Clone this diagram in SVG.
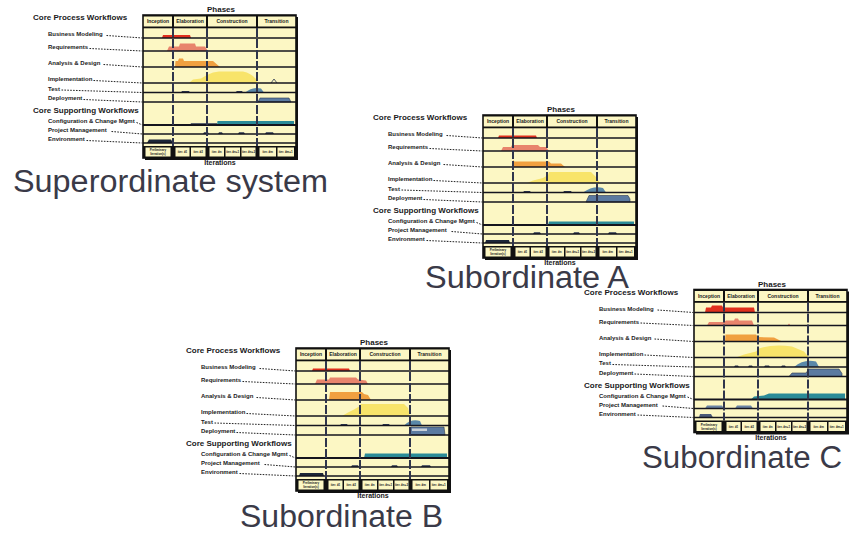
<svg xmlns="http://www.w3.org/2000/svg" xmlns:xlink="http://www.w3.org/1999/xlink" width="849" height="534" viewBox="0 0 849 534">
<style>
.t{font-family:"Liberation Sans",Arial,sans-serif;font-weight:bold;fill:#1a1a22}
.h{font-size:8px}
.r{font-size:6px}
.ph{font-size:5px;text-anchor:middle}
.ix{font-size:3px;text-anchor:middle}
.big{font-family:"Liberation Sans",Arial,sans-serif;font-size:31px;fill:#3a3a48}
.row{stroke:#15151e;stroke-width:1.6}
.dv{stroke:#2f354c;stroke-width:2;stroke-dasharray:9 2}
.ld{stroke:#222;stroke-width:1;stroke-dasharray:1.6 1.3;fill:none}
.it{fill:#fcf7c4}
.red{fill:#e0301e}
.sal{fill:#e8846c}
.ora{fill:#f0a040}
.yel{fill:#f8e46a}
.tst{fill:#5a88a8}
.dep{fill:#5b7aa0;stroke:#2a3550;stroke-width:0.6}
.cfg{fill:#2b8b98}
.drk{fill:#2a3550}
.env{fill:#1c2638}
</style>
<defs>
<g id="chartBack">
<rect x="2" y="2" width="153" height="143" fill="#111"/>
<rect x="0" y="0" width="153" height="143" fill="#fcf7c4"/>
</g>
<g id="chartFront">
<line x1="0" y1="0.8" x2="153" y2="0.8" stroke="#111" stroke-width="1.6"/>
<rect x="0" y="11.5" width="153" height="1.8" fill="#111"/>
<g stroke="#111" stroke-width="2">
<line x1="30" y1="0" x2="30" y2="12"/>
<line x1="64" y1="0" x2="64" y2="12"/>
<line x1="114" y1="0" x2="114" y2="12"/>
</g>
<text class="t ph" x="15" y="8">Inception</text>
<text class="t ph" x="47" y="8">Elaboration</text>
<text class="t ph" x="89" y="8">Construction</text>
<text class="t ph" x="133.5" y="8">Transition</text>
<g class="row">
<line x1="0" y1="23" x2="153" y2="23"/>
<line x1="0" y1="36" x2="153" y2="36"/>
<line x1="0" y1="52" x2="153" y2="52"/>
<line x1="0" y1="68" x2="153" y2="68"/>
<line x1="0" y1="77.5" x2="153" y2="77.5"/>
<line x1="0" y1="87" x2="153" y2="87"/>
<line x1="0" y1="110" x2="153" y2="110" stroke-width="2"/>
<line x1="0" y1="119" x2="153" y2="119"/>
<line x1="0" y1="128" x2="153" y2="128"/>
</g>
<g class="dv">
<line x1="30" y1="13" x2="30" y2="131"/>
<line x1="64" y1="13" x2="64" y2="131"/>
<line x1="114" y1="13" x2="114" y2="131"/>
</g>
<rect x="0" y="131" width="153" height="12" fill="#111"/>
<rect class="it" x="2.5" y="132.5" width="25" height="9"/>
<rect class="it" x="32.5" y="132.5" width="14" height="9"/>
<rect class="it" x="48" y="132.5" width="14.5" height="9"/>
<rect class="it" x="66.5" y="132.5" width="14.5" height="9"/>
<rect class="it" x="82.5" y="132.5" width="14.5" height="9"/>
<rect class="it" x="98.5" y="132.5" width="14" height="9"/>
<rect class="it" x="116.5" y="132.5" width="16.5" height="9"/>
<rect class="it" x="134.5" y="132.5" width="16.5" height="9"/>
<text class="t ix" x="15" y="136.3">Preliminary</text>
<text class="t ix" x="15" y="140.3">Iteration(s)</text>
<text class="t ix" x="39.5" y="138.3">iter. #1</text>
<text class="t ix" x="55.2" y="138.3">iter. #2</text>
<text class="t ix" x="73.7" y="138.3">iter. #n</text>
<text class="t ix" x="89.7" y="138.3">iter. #n+1</text>
<text class="t ix" x="105.5" y="138.3">iter. #n+2</text>
<text class="t ix" x="124.7" y="138.3">iter. #m</text>
<text class="t ix" x="142.7" y="138.3">iter. #m+1</text>
<rect x="0" y="0" width="153" height="143" fill="none" stroke="#111" stroke-width="1.6"/>
<text class="t h" x="78" y="-3" text-anchor="middle">Phases</text>
<text class="t" x="77" y="150" font-size="7" text-anchor="middle">Iterations</text>
<text class="t h" x="-110" y="5">Core Process Workflows</text>
<text class="t r" x="-95" y="21">Business Modeling</text>
<text class="t r" x="-95" y="34">Requirements</text>
<text class="t r" x="-95" y="50">Analysis &amp; Design</text>
<text class="t r" x="-95" y="66">Implementation</text>
<text class="t r" x="-95" y="75.5">Test</text>
<text class="t r" x="-95" y="85">Deployment</text>
<text class="t h" x="-110" y="98">Core Supporting Workflows</text>
<text class="t r" x="-95" y="108">Configuration &amp; Change Mgmt</text>
<text class="t r" x="-95" y="117">Project Management</text>
<text class="t r" x="-95" y="126">Environment</text>
<g class="ld">
<line x1="-36.5" y1="20.5" x2="-0.5" y2="23"/>
<line x1="-53.5" y1="33.5" x2="-0.5" y2="36"/>
<line x1="-39.5" y1="49.5" x2="-0.5" y2="52"/>
<line x1="-49.5" y1="65.5" x2="-0.5" y2="68"/>
<line x1="-81.5" y1="75" x2="-0.5" y2="77.5"/>
<line x1="-59.5" y1="84.5" x2="-0.5" y2="87"/>
<line x1="-6.5" y1="107.5" x2="-0.5" y2="110"/>
<line x1="-31.5" y1="116.5" x2="-0.5" y2="119"/>
<line x1="-56.5" y1="125.5" x2="-0.5" y2="128"/>
</g>
</g>
</defs>

<g id="connectors"></g>

<g id="superordinate">
<g transform="translate(143,15)">
<use xlink:href="#chartBack" href="#chartBack"/>
<g id="superordinate-humps">
<path class="red" d="M19,23 L20,20 L47,20 L48,23 Z"/>
<path class="sal" d="M24,36 L26,31.5 L36,31.5 L37,28.5 L52,28.5 L53,31.5 L62,31.5 L65,36 Z"/>
<path class="ora" d="M32,52 L32.5,46 L35,46 L36,43.5 L40,43.5 L41,46 L70,46 L77,52 Z"/>
<path class="yel" d="M46,68 L50,64.5 L58,63.5 L64,60 Q70,56.5 76,56.5 L100,56.5 Q108,58 113,64 L115,68 Z"/>
<path d="M128,68 L131,64 L134,68" fill="none" stroke="#2a3550" stroke-width="0.8"/>
<path class="drk" d="M38,77.5 L39,76 L46,76 L47,77.5 Z M92,77.5 L94,76 L99,76 L100,77.5 Z"/>
<path class="tst" d="M102,77.5 Q110,71.5 118,73.5 L121,77.5 Z"/>
<path class="dep" d="M115,87 L117,83 L146,83 L148,87 Z"/>
<path class="drk" d="M47,110 L48,108.3 L74,108.3 L74,110 Z"/>
<path class="cfg" d="M74,110 L74.5,106 L151,106 L151,110 Z"/>
<path class="drk" d="M60,119 L61,117.3 L65,117.3 L66,119 Z M75,119 L76,117.3 L79,117.3 L80,119 Z M95,119 L96,117.3 L101,117.3 L102,119 Z M122,119 L123,117.3 L130,117.3 L131,119 Z"/>
<path class="env" d="M4,128 L6,124.5 L28,124.5 L30,128 Z"/>
</g>
<use xlink:href="#chartFront" href="#chartFront"/>
</g>
<text class="big" x="13" y="192" textLength="315" lengthAdjust="spacingAndGlyphs">Superordinate system</text>
</g>

<g id="subordinate-a">
<g transform="translate(483,115)">
<use xlink:href="#chartBack" href="#chartBack"/>
<g id="subordinate-a-humps">
<path class="red" d="M15,23 L16,20.5 L53,20.5 L54,23 Z"/>
<path class="sal" d="M18,36 L20,32 L28,32 L29,30 L55,30 L57,32 L63,32 L66,36 Z"/>
<path class="ora" d="M30,52 L30,45 L31.5,46.5 L66,46.5 L68,48.5 L78,48.5 L82,52 Z"/>
<path class="yel" d="M44,68 L50,65.5 L60,63 L65,60 L66,57 L108,57 L113,62 L117,68 Z"/>
<path class="drk" d="M40,77.5 L41,76 L47,76 L48,77.5 Z M80,77.5 L81,76 L88,76 L89,77.5 Z"/>
<path class="tst" d="M100,77.5 Q110,70.5 120,73 L123,77.5 Z"/>
<path class="dep" d="M103,87 L106,80.5 L145,80.5 L147,84 L147,87 Z"/>
<path class="cfg" d="M65,110 L66,106.5 L151,106.5 L151,110 Z"/>
<path class="drk" d="M50,119 L51,117.3 L57,117.3 L58,119 Z M90,119 L91,117.3 L96,117.3 L97,119 Z M125,119 L126,117.3 L133,117.3 L134,119 Z"/>
<path class="env" d="M2,128 L3,125 L26,125 L27,128 Z"/>
</g>
<use xlink:href="#chartFront" href="#chartFront"/>
</g>
<text class="big" x="425" y="288" textLength="204" lengthAdjust="spacingAndGlyphs">Subordinate A</text>
</g>

<g id="subordinate-b">
<g transform="translate(296,348)">
<use xlink:href="#chartBack" href="#chartBack"/>
<g id="subordinate-b-humps">
<path class="red" d="M16,23 L17,20.5 L53,20.5 L54,23 Z"/>
<path class="sal" d="M19,36 L21,31.5 L33,31.5 L34,29.5 L60,29.5 L62,31.5 L70,32.5 L72,36 Z"/>
<path class="ora" d="M33,52 L34,44 L66,44 L68,46 L72,47 L75,52 Z"/>
<path class="yel" d="M46,68 L52,64.5 L58,61.5 L63,58.5 L65,56 L108,56 L112,60 L114,68 Z"/>
<path class="drk" d="M44,77.5 L45,76 L51,76 L52,77.5 Z M86,77.5 L87,76 L93,76 L94,77.5 Z"/>
<path class="tst" d="M108,77.5 Q115,70.5 124,73 L126,77.5 Z"/>
<path class="dep" d="M113,87 L115,79 L148,79 L149,87 Z"/>
<rect x="116" y="80.5" width="15" height="2.5" fill="#c8d0d8"/>
<path class="cfg" d="M68,110 L69,105.5 L151,105.5 L151,110 Z"/>
<path class="drk" d="M55,119 L56,117.3 L62,117.3 L63,119 Z M95,119 L96,117.3 L101,117.3 L102,119 Z M125,119 L126,117.3 L134,117.3 L135,119 Z"/>
<path class="env" d="M3,128 L4,125 L27,125 L28,128 Z"/>
</g>
<use xlink:href="#chartFront" href="#chartFront"/>
</g>
<text class="big" x="240" y="527" textLength="203" lengthAdjust="spacingAndGlyphs">Subordinate B</text>
</g>

<g id="subordinate-c">
<g transform="translate(694,289.5)">
<use xlink:href="#chartBack" href="#chartBack"/>
<g id="subordinate-c-humps">
<path class="red" d="M11,23 L12,18 L17,18 L18,16 L28,16 L29,18 L60,18 L61,23 Z"/>
<path class="sal" d="M13,36 L15,32.5 L30,32.5 L32,31 L40,31 L41,29 L44,29 L45,31 L58,31 L60,36 Z M93.5,36 L95,34 L96.5,36 Z"/>
<path class="ora" d="M31,52 L31.5,45 L62,45 L64,47.5 L80,48 L88,52 Z"/>
<path class="yel" d="M42,68 L50,65 L62,62 L65,59 Q80,54 98,57 L110,62 L115,68 Z"/>
<path class="drk" d="M40,77.5 L41,76 L44,76 L45,77.5 Z M54,77.5 L55,76 L58,76 L59,77.5 Z M70,77.5 L71,76 L75,76 L76,77.5 Z M87,77.5 L88,76 L91,76 L92,77.5 Z"/>
<path class="tst" d="M100,77.5 Q110,69 122,72 L125,77.5 Z"/>
<path class="dep" d="M95,87 L98,83.5 L112,83.5 L115,79.5 L145,79.5 L148,84 L148,87 Z"/>
<path class="cfg" d="M57,110 L60,107 L70,106 L75,104 L151,104 L151,110 Z"/>
<path fill="#6a84a4" d="M11,119 L13,116 L28,116 L30,119 Z M41,119 L43,116 L57,116 L59,119 Z"/>
<path fill="#4a5a78" d="M5,128 L6,124.5 L17,124.5 L19,128 Z"/>
</g>
<use xlink:href="#chartFront" href="#chartFront"/>
</g>
<text class="big" x="642" y="468" textLength="200" lengthAdjust="spacingAndGlyphs">Subordinate C</text>
</g>
</svg>
